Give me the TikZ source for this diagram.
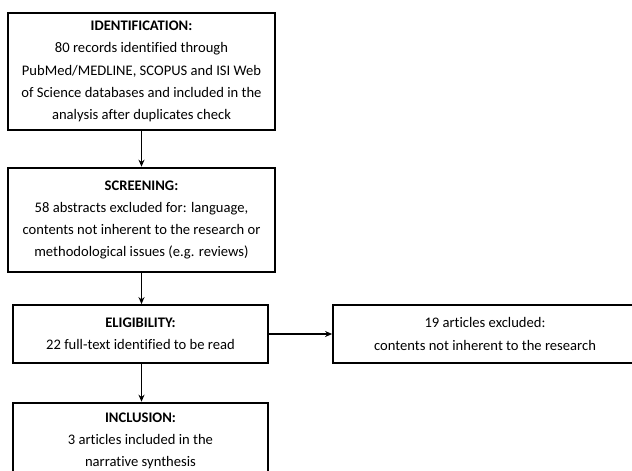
\documentclass[tikz,border=0pt]{standalone}
\usepackage{fontspec}
\setmainfont[Ligatures=NoCommon]{Carlito}
\usetikzlibrary{arrows.meta}

\begin{document}
\begin{tikzpicture}[x=1pt,y=-1pt,>={Stealth[length=7pt,width=6pt]},line cap=butt,line join=miter,
  stagebox/.style={draw,line width=2.6pt,align=center,inner sep=0pt,font=\fontsize{14.6}{22.3}\selectfont},
  thinbox/.style={stagebox,line width=1.8pt},
  flow/.style={->,line width=1.4pt}]
\useasboundingbox (0,0) rectangle (632,471);
\node[stagebox,minimum width=267pt,minimum height=117pt] (ident) at (141.5,71.5)
  {\textbf{IDENTIFICATION:}\\80 records identified through\\PubMed/MEDLINE, SCOPUS and ISI Web\\of Science databases and included in the\\analysis after duplicates check};
\node[stagebox,minimum width=267pt,minimum height=104pt] (screen) at (141.5,220)
  {\textbf{SCREENING:}\\58 abstracts excluded for: language,\\contents not inherent to the research or\\methodological issues (e.g. reviews)};
\node[thinbox,minimum width=255pt,minimum height=58pt] (elig) at (140.5,334)
  {\textbf{ELIGIBILITY:}\\22 full-text identified to be read};
\node[thinbox,minimum width=304pt,minimum height=58pt] (excl) at (485,334)
  {19 articles excluded:\\contents not inherent to the research};
\node[stagebox,minimum width=255pt,minimum height=76pt] (incl) at (140.5,441)
  {\textbf{INCLUSION:}\\3 articles included in the\\narrative synthesis};
\draw[flow] (ident.south) -- (screen.north);
\draw[flow] (screen.south) -- (screen.south |- elig.north);
\draw[flow] (elig.east) -- (excl.west);
\draw[flow] (screen.south |- elig.south) -- (screen.south |- incl.north);
\end{tikzpicture}
\end{document}
